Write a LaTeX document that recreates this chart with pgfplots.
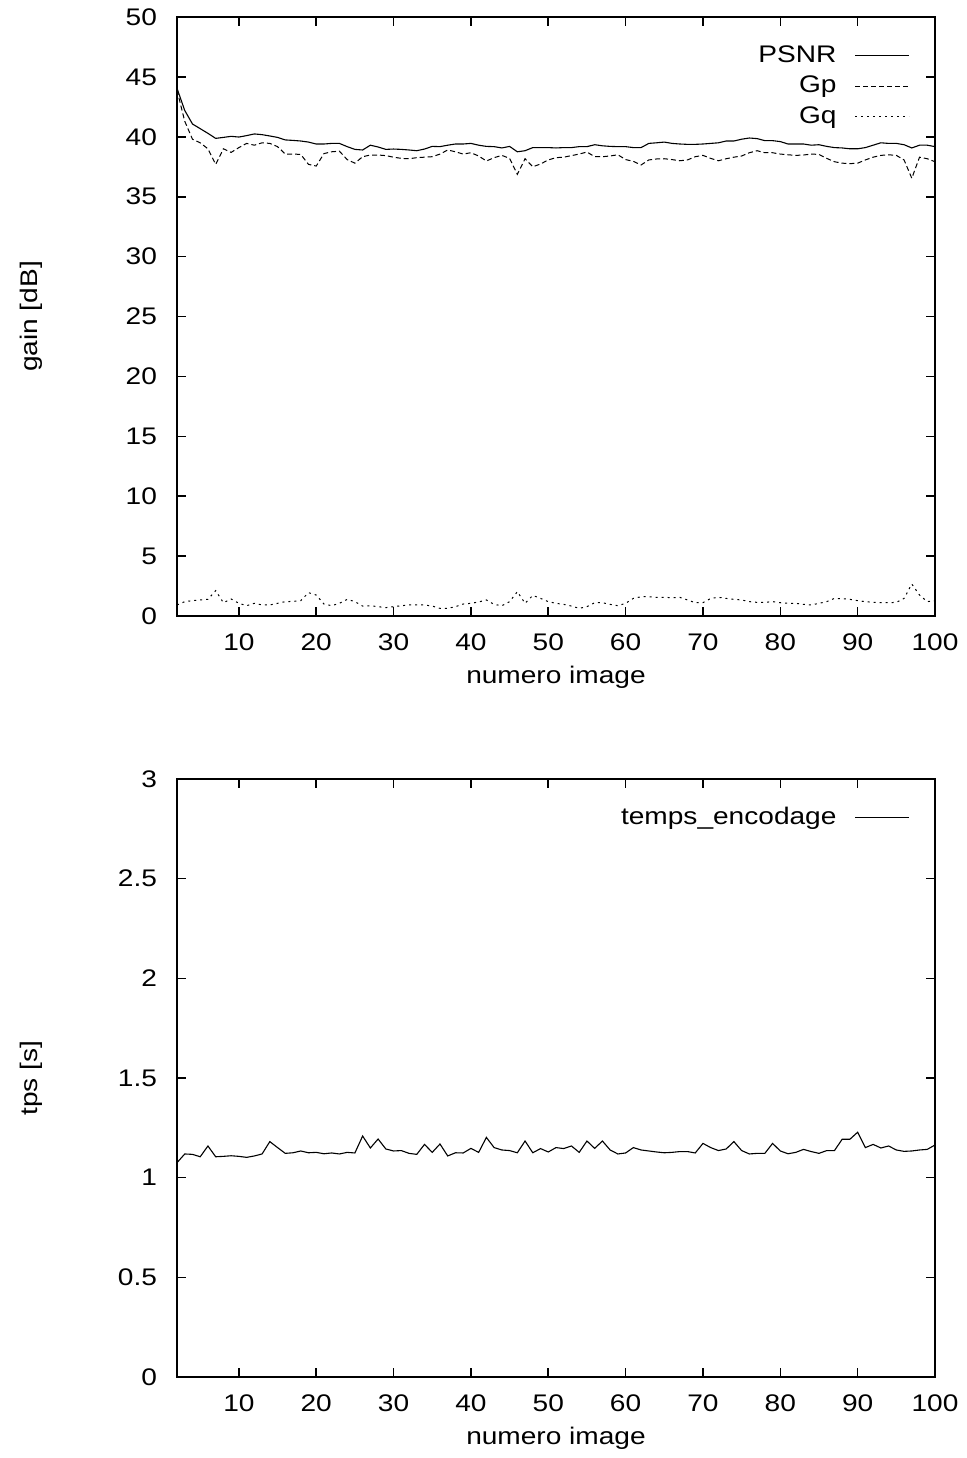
\documentclass[border=0pt]{standalone}
\usepackage{fontspec}
\setmainfont{Liberation Sans}[FakeStretch=1.17]
\usepackage{pgfplots}
\pgfplotsset{compat=1.18}
\usepackage{pgfplotstable}
\newcommand\myfont{\fontsize{12pt}{14pt}\selectfont}

\pgfplotstableread{
x psnr gp gq
2 44.05 43.9 0.92
3 42.2 41.3 1.2
4 41.07 39.8 1.28
5 40.68 39.5 1.34
6 40.29 39.0 1.39
7 39.87 37.7 2.12
8 39.95 39.0 1.11
9 40.04 38.7 1.42
10 39.98 39.1 1.06
11 40.1 39.45 0.86
12 40.24 39.3 1.06
13 40.18 39.5 0.92
14 40.07 39.45 0.92
15 39.95 39.18 1.06
16 39.74 38.56 1.2
17 39.7 38.56 1.22
18 39.65 38.53 1.28
19 39.56 37.7 1.95
20 39.4 37.56 1.75
21 39.4 38.6 1.0
22 39.45 38.75 0.86
23 39.45 38.8 1.06
24 39.18 38.1 1.39
25 38.95 37.8 1.2
26 38.9 38.34 0.83
27 39.3 38.48 0.86
28 39.15 38.48 0.78
29 38.95 38.43 0.7
30 38.98 38.3 0.78
31 38.95 38.2 0.86
32 38.9 38.17 0.92
33 38.84 38.26 0.92
34 38.98 38.3 0.92
35 39.2 38.34 0.83
36 39.18 38.56 0.64
37 39.3 38.9 0.64
38 39.4 38.75 0.78
39 39.4 38.56 1.0
40 39.45 38.67 1.06
41 39.3 38.4 1.17
42 39.2 37.98 1.34
43 39.18 38.26 0.97
44 39.07 38.45 0.86
45 39.2 38.2 1.2
46 38.75 36.87 2.03
47 38.84 38.17 1.06
48 39.1 37.5 1.72
49 39.1 37.73 1.47
50 39.1 38.07 1.2
51 39.07 38.26 1.06
52 39.1 38.3 0.97
53 39.1 38.43 0.83
54 39.18 38.56 0.64
55 39.18 38.73 0.78
56 39.34 38.34 1.11
57 39.25 38.34 1.11
58 39.2 38.4 0.97
59 39.18 38.5 0.86
60 39.18 38.1 1.06
61 39.1 37.95 1.47
62 39.1 37.65 1.61
63 39.45 38.07 1.61
64 39.5 38.15 1.56
65 39.56 38.17 1.56
66 39.45 38.1 1.53
67 39.4 38.0 1.56
68 39.37 38.07 1.34
69 39.37 38.34 1.11
70 39.4 38.45 1.11
71 39.45 38.2 1.47
72 39.5 38.0 1.56
73 39.65 38.17 1.47
74 39.65 38.3 1.39
75 39.8 38.4 1.34
76 39.9 38.67 1.2
77 39.85 38.84 1.14
78 39.68 38.67 1.14
79 39.68 38.67 1.2
80 39.6 38.56 1.11
81 39.4 38.5 1.06
82 39.4 38.45 1.06
83 39.4 38.48 0.97
84 39.3 38.56 0.92
85 39.34 38.53 1.06
86 39.2 38.2 1.2
87 39.1 37.92 1.47
88 39.07 37.8 1.45
89 39.0 37.76 1.39
90 39.0 37.8 1.28
91 39.1 38.07 1.2
92 39.3 38.3 1.14
93 39.5 38.45 1.11
94 39.45 38.5 1.11
95 39.45 38.45 1.14
96 39.34 38.07 1.47
97 39.07 36.54 2.67
98 39.3 38.3 1.75
99 39.3 38.17 1.2
100 39.18 37.92 1.28
}\gaintable

\pgfplotstableread{
x t
2 1.075
3 1.119
4 1.117
5 1.105
6 1.159
7 1.105
8 1.107
9 1.11
10 1.107
11 1.102
12 1.109
13 1.119
14 1.181
15 1.151
16 1.122
17 1.125
18 1.134
19 1.125
20 1.127
21 1.12
22 1.124
23 1.119
24 1.127
25 1.124
26 1.209
27 1.149
28 1.194
29 1.144
30 1.134
31 1.136
32 1.122
33 1.117
34 1.167
35 1.127
36 1.169
37 1.109
38 1.125
39 1.124
40 1.147
41 1.127
42 1.202
43 1.151
44 1.139
45 1.136
46 1.125
47 1.184
48 1.125
49 1.146
50 1.129
51 1.151
52 1.146
53 1.159
54 1.127
55 1.184
56 1.147
57 1.184
58 1.139
59 1.119
60 1.124
61 1.151
62 1.139
63 1.134
64 1.129
65 1.125
66 1.127
67 1.131
68 1.131
69 1.124
70 1.172
71 1.151
72 1.136
73 1.144
74 1.181
75 1.136
76 1.119
77 1.122
78 1.122
79 1.172
80 1.134
81 1.12
82 1.127
83 1.142
84 1.131
85 1.122
86 1.136
87 1.136
88 1.193
89 1.193
90 1.228
91 1.151
92 1.167
93 1.149
94 1.159
95 1.139
96 1.132
97 1.134
98 1.139
99 1.142
100 1.164
}\timetable

\pgfplotsset{
  gnu/.style={
    scale only axis,
    width=379pt,
    xmin=2, xmax=100,
    xtick={10,20,...,100},
    tick align=inside,
    major tick length=4.5pt,
    axis line style={line width=1pt},
    every tick/.style={black, line width=0.8pt},
    /pgf/number format/assume math mode=true,
    tick label style={font=\myfont},
    xticklabel style={yshift=-5.5pt},
    yticklabel style={xshift=-6.5pt},
    label style={font=\myfont},
    xlabel={numero image},
    xlabel style={at={(axis description cs:0.5,0)}, anchor=base, yshift=-33.5pt},
    ylabel style={at={(axis description cs:-0.1926,0.5)}, anchor=center},
    legend plot pos=right,
    legend cell align=right,
    legend image code/.code={\draw[#1] (0pt,0pt) -- (27pt,0pt);},
    legend style={draw=none, fill=none, font=\myfont, at={(1,1)}, anchor=north east,
      xshift=-9.5pt, yshift=-10pt, row sep=1.5pt, column sep=7pt},
  }
}

\begin{document}
\begin{tikzpicture}
\path[use as bounding box] (0,0) rectangle (483.5pt,-729pt);
\begin{axis}[gnu,
  at={(88.5pt,-308pt)}, anchor=south west,
  height=299.5pt,
  ymin=0, ymax=50, ytick={0,5,...,50},
  ylabel={gain [dB]},
]
\addplot[black, line width=0.55pt] table[x=x, y=psnr] {\gaintable};
\addlegendentry{PSNR}
\addplot[black, line width=0.5pt, dash pattern=on 2.5pt off 1.5pt] table[x=x, y=gp] {\gaintable};
\addlegendentry{Gp}
\addplot[black, line width=0.5pt, dash pattern=on 1pt off 2pt] table[x=x, y=gq] {\gaintable};
\addlegendentry{Gq}
\end{axis}
\begin{axis}[gnu,
  at={(88.5pt,-688.5pt)}, anchor=south west,
  height=299pt,
  ymin=0, ymax=3, ytick={0,0.5,...,3},
  ylabel={tps [s]},
]
\addplot[black, line width=0.55pt] table[x=x, y=t] {\timetable};
\addlegendentry{temps\_encodage}
\end{axis}
\end{tikzpicture}
\end{document}
